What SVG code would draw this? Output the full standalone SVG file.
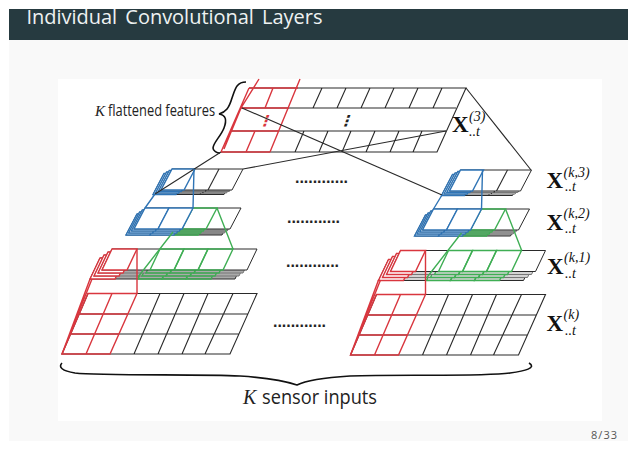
<svg xmlns="http://www.w3.org/2000/svg" xmlns:xlink="http://www.w3.org/1999/xlink" width="638" height="452" viewBox="0 0 638 452">
<style>
.k{fill:none;stroke:#2a2a2a;stroke-width:1.1}
.r{fill:none;stroke:#d9363e;stroke-width:1.4}
.b{fill:none;stroke:#2f74b5;stroke-width:1.4}
.g{fill:none;stroke:#3fae54;stroke-width:1.4}
.rf{fill:#fff;stroke:#d9363e;stroke-width:1.4}
.bf{fill:#fff;stroke:#2f74b5;stroke-width:1.4}
.s{stroke-width:1}
.brace{fill:none;stroke:#111;stroke-width:1.6}
.dots{font-family:"Liberation Sans",sans-serif;font-size:16px;font-weight:bold;fill:#222}
.cap{font-family:"Open Sans",sans-serif;fill:#222}
.capk{font-family:"Liberation Serif",serif;font-style:italic;fill:#222}
.x{font-family:"Liberation Serif",serif;font-weight:bold;font-size:23px;fill:#111}
.m{font-family:"Liberation Serif",serif;font-style:italic;font-size:14px;fill:#111}
.v{font-family:"DejaVu Sans",sans-serif;font-size:15px;font-weight:bold}
</style>
<defs>
<g id="sheetA">
<polygon class="s" points="172,169 243,169 232,190 161,190"/>
<path class="k" d="M219,169 208,190"/>
<polygon class="bf" points="172,169 195,169 184,190 161,190"/>
</g>
<g id="stackA">
<use xlink:href="#sheetA" href="#sheetA" x="-8" y="4.5" stroke="#2a2a2a"/>
<use xlink:href="#sheetA" href="#sheetA" x="-5.4" y="3" stroke="#777"/>
<use xlink:href="#sheetA" href="#sheetA" x="-2.7" y="1.5" stroke="#777"/>
<use xlink:href="#sheetA" href="#sheetA" fill="#fff" stroke="#2a2a2a"/>
</g>
<g id="sheetB">
<polygon class="s" points="145,208 241,208 230,229 134,229"/>
<polygon class="g" points="193,208 217,208 206,229 182,229"/>
<polygon class="bf" points="145,208 169,208 158,229 134,229"/>
<polygon class="bf" points="169,208 193,208 182,229 158,229"/>
</g>
<g id="stackB">
<use xlink:href="#sheetB" href="#sheetB" x="-8" y="6" stroke="#2a2a2a"/>
<use xlink:href="#sheetB" href="#sheetB" x="-5.4" y="4" stroke="#777"/>
<use xlink:href="#sheetB" href="#sheetB" x="-2.7" y="2" stroke="#777"/>
<use xlink:href="#sheetB" href="#sheetB" fill="#fff" stroke="#2a2a2a"/>
</g>
<g id="sheetC">
<polygon class="s" points="112,249 257,249 247,270 102,270"/>
<polygon class="g" points="160,249 184,249 174,270 150,270"/>
<polygon class="g" points="184,249 208,249 198,270 174,270"/>
<polygon class="g" points="208,249 233,249 223,270 198,270"/>
<polygon class="rf" points="112,249 137,249 127,270 102,270"/>
</g>
<g id="stackC">
<use xlink:href="#sheetC" href="#sheetC" x="-12" y="9" stroke="#2a2a2a"/>
<use xlink:href="#sheetC" href="#sheetC" x="-8" y="6" stroke="#777"/>
<use xlink:href="#sheetC" href="#sheetC" x="-4" y="3" stroke="#777"/>
<use xlink:href="#sheetC" href="#sheetC" fill="#fff" stroke="#2a2a2a"/>
</g>
<g id="grid">
<path class="k" d="M88,293.5H257L230,354H62ZM79,314H248M70,334H239M160,293.5 134,354M184,293.5 158,354M208,293.5 182,354M233,293.5 205,354"/>
<path class="r" d="M88,293.5H137L110,354H62ZM79,314H128M70,334H119M112,293.5 86,354"/>
</g>
</defs>

<rect width="638" height="452" fill="#fff"/>
<g id="slide">
<rect x="9" y="9" width="619" height="432" fill="#f9f9f9"/>
<rect x="58" y="79" width="544" height="342" fill="#fff"/>
<rect x="9" y="9" width="619" height="31" fill="#263a40"/>
<text x="26.5" y="24" font-family="Open Sans, sans-serif" font-size="20px" fill="#eef2f2" textLength="296" lengthAdjust="spacing" word-spacing="3">Individual Convolutional Layers</text>
<text x="591" y="439" font-family="Open Sans, sans-serif" font-size="11px" fill="#555" textLength="26">8/33</text>
</g>

<g id="top-layer">
<path class="k" d="M249,88H466L437,152H221M240,108H456M230,131H446M322,88 313,108M346,88 337,108M370,88 361,108M394,88 385,108M418,88 409,108M442,88 433,108M304,131 295,152M328,131 319,152M351,131 342,152M375,131 366,152M399,131 390,152M422,131 413,152"/>
<path class="r" d="M249,88H298M241,108H289M231,131H278M221,152H270M249,88 221,152M273,88 265,108M255,131 246,152M259,79 241,108 224,149M300,79 270,152"/>
<text class="v" x="0" y="0" fill="#d9363e" transform="translate(257,126) skewX(-18)">⋮</text>
<text class="v" x="0" y="0" fill="#222" transform="translate(338,126) skewX(-18)">⋮</text>
</g>
<g id="label-top">
<text class="x" x="452" y="132">X</text>
<text class="m" x="469" y="121">(3)</text>
<text class="m" x="469" y="136">..t</text>
</g>
<g id="caption-features">
<text class="capk" x="95" y="115.5" font-size="15px">K</text>
<text class="cap" x="108" y="115.5" font-size="16px" textLength="107" lengthAdjust="spacingAndGlyphs">flattened features</text>
<path class="brace" d="M246,82C236,82 235,90 232,98C229,108 226,112 219,114C226,115 227,120 224,128C221,136 213,143 213,148C213,151 217,153 220,153"/>
</g>

<g id="layer-k3-left"><use xlink:href="#stackA" href="#stackA" fill="#999"/></g>
<g id="layer-k3-right"><use xlink:href="#stackA" href="#stackA" transform="translate(288.5,1)" fill="#d4d4d4"/></g>
<g id="layer-k2-left"><use xlink:href="#stackB" href="#stackB" fill="#999"/></g>
<g id="layer-k2-right"><use xlink:href="#stackB" href="#stackB" transform="translate(288.5,1)" fill="#aaa"/></g>
<g id="layer-k1-left"><use xlink:href="#stackC" href="#stackC" fill="#aaa"/></g>
<g id="layer-k1-right"><use xlink:href="#stackC" href="#stackC" transform="translate(288.5,1.5)" fill="#d4d4d4"/></g>
<g id="layer-k-left"><use xlink:href="#grid" href="#grid"/></g>
<g id="layer-k-right"><use xlink:href="#grid" href="#grid" transform="translate(288.5,1)"/></g>

<g id="connectors">
<path class="k" d="M221,152 155,194M446,131 243,169M242,108 442,195M466,88 531,170"/>
<g id="links-left">
<path class="b" d="M155,194 145,208M194,169 193,208"/>
<path class="g" d="M173,232 138,277M217,208 233,249"/>
<path class="r" d="M137,249V293.5M90,279 62,354M92,279 70,334"/>
</g>
<g id="links-right" transform="translate(288.5,1)">
<path class="b" d="M153.5,194 145,208M194,169 193,208"/>
<path class="g" d="M173,232 138,277M217,208 233,249"/>
<path class="r" d="M137,249V293.5M90,279 62,354M92,279 70,334"/>
</g>
</g>

<g id="ellipses">
<text class="dots" x="295" y="183" textLength="53">............</text>
<text class="dots" x="287" y="223" textLength="53">............</text>
<text class="dots" x="286" y="267" textLength="53">............</text>
<text class="dots" x="273" y="327" textLength="53">............</text>
</g>

<g id="label-k3"><text class="x" x="546.5" y="188">X</text><text class="m" x="563.5" y="177">(k,3)</text><text class="m" x="565" y="191">..t</text></g>
<g id="label-k2"><text class="x" x="546.5" y="230">X</text><text class="m" x="563.5" y="218">(k,2)</text><text class="m" x="565" y="233">..t</text></g>
<g id="label-k1"><text class="x" x="547" y="274">X</text><text class="m" x="564" y="262">(k,1)</text><text class="m" x="565" y="278">..t</text></g>
<g id="label-k"><text class="x" x="546.5" y="331">X</text><text class="m" x="563.5" y="319">(k)</text><text class="m" x="565" y="335">..t</text></g>

<g id="caption-sensors">
<path class="brace" d="M62,363C58,367 62,371 75,373C100,376 200,374 240,376C270,378 285,381 297,385C305,381 320,378 350,376C400,374 480,377 510,373C525,371 537,368 529,363"/>
<text class="capk" x="243" y="404" font-size="20px">K</text>
<text class="cap" x="262" y="404" font-size="20px" textLength="115" lengthAdjust="spacingAndGlyphs">sensor inputs</text>
</g>
</svg>
